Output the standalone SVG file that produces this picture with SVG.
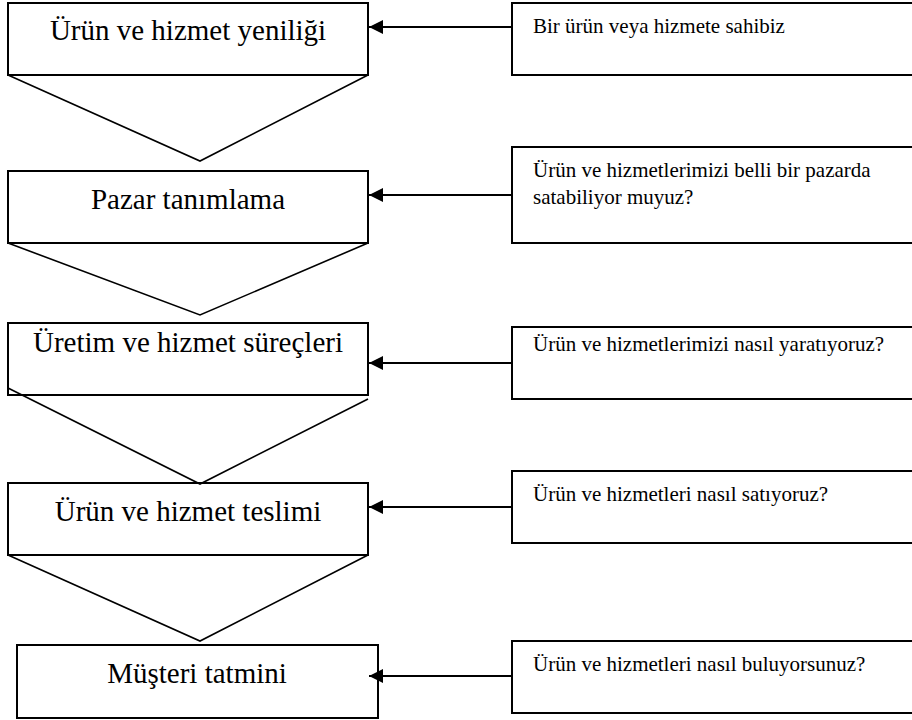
<svg xmlns="http://www.w3.org/2000/svg" width="912" height="720" viewBox="0 0 912 720">
<defs>
<marker id="ah" viewBox="0 0 10 10" refX="10" refY="5" markerWidth="14" markerHeight="14" markerUnits="userSpaceOnUse" orient="auto">
<path d="M0,0 L10,5 L0,10 Z" fill="#000"/>
</marker>
<style>
.box{fill:#fff;stroke:#000;stroke-width:2}
.tri{fill:none;stroke:#000;stroke-width:1.6}
.big{font-family:"Liberation Serif","Times New Roman","DejaVu Serif",serif;font-size:29px;fill:#000;text-anchor:middle}
.small{font-family:"Liberation Serif","Times New Roman","DejaVu Serif",serif;font-size:21px;fill:#000}
.conn{stroke:#000;stroke-width:2;fill:none;marker-end:url(#ah)}
</style>
</defs>
<rect width="912" height="720" fill="#fff"/>
<g id="node-urun-yeniligi">
<rect class="box" x="8" y="3" width="360" height="72"/>
<text class="big" x="188" y="40">Ürün ve hizmet yeniliği</text>
</g>
<g id="node-pazar">
<rect class="box" x="8" y="171" width="360" height="72"/>
<text class="big" x="188" y="209">Pazar tanımlama</text>
</g>
<g id="node-uretim">
<rect class="box" x="8" y="323" width="360" height="72"/>
<text class="big" x="188" y="352">Üretim ve hizmet süreçleri</text>
</g>
<g id="node-teslim">
<rect class="box" x="8" y="483" width="360" height="72"/>
<text class="big" x="188" y="521">Ürün ve hizmet teslimi</text>
</g>
<g id="node-musteri">
<rect class="box" x="17" y="645" width="361" height="73"/>
<text class="big" x="197" y="683">Müşteri tatmini</text>
</g>
<g id="chevrons">
<polyline class="tri" points="8,75 200,161 368,75"/>
<polyline class="tri" points="8,243 200,315 368,243"/>
<polyline class="tri" points="8,388 200,484 368,399"/>
<polyline class="tri" points="8,555 200,641 368,555"/>
</g>
<g id="note-1">
<rect class="box" x="512" y="3" width="420" height="72"/>
<text class="small" x="533" y="33">Bir ürün veya hizmete sahibiz</text>
</g>
<g id="note-2">
<rect class="box" x="512" y="147" width="420" height="96"/>
<text class="small" x="533" y="177">Ürün ve hizmetlerimizi belli bir pazarda</text>
<text class="small" x="533" y="204">satabiliyor muyuz?</text>
</g>
<g id="note-3">
<rect class="box" x="512" y="327" width="420" height="72"/>
<text class="small" x="533" y="351">Ürün ve hizmetlerimizi nasıl yaratıyoruz?</text>
</g>
<g id="note-4">
<rect class="box" x="512" y="471" width="420" height="72"/>
<text class="small" x="533" y="501">Ürün ve hizmetleri nasıl satıyoruz?</text>
</g>
<g id="note-5">
<rect class="box" x="512" y="641" width="420" height="72"/>
<text class="small" x="533" y="671">Ürün ve hizmetleri nasıl buluyorsunuz?</text>
</g>
<g id="connectors">
<line class="conn" x1="512" y1="27" x2="369" y2="27"/>
<line class="conn" x1="512" y1="195" x2="369" y2="195"/>
<line class="conn" x1="512" y1="363" x2="369" y2="363"/>
<line class="conn" x1="512" y1="507" x2="369" y2="507"/>
<line class="conn" x1="512" y1="676" x2="369" y2="676"/>
</g>
</svg>
